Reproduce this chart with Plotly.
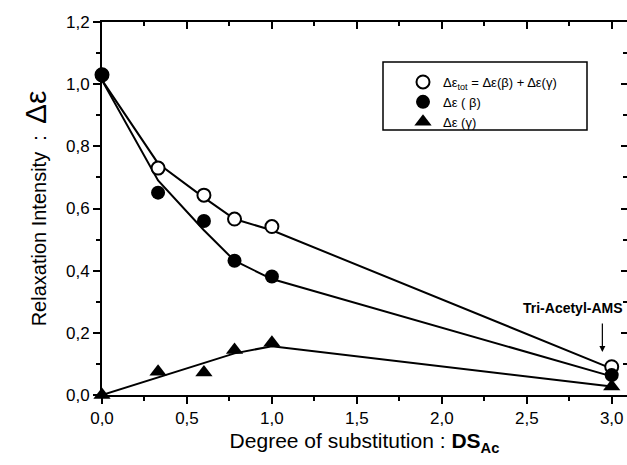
import plotly.graph_objects as go

# Data points
ds = [0.0, 0.33, 0.6, 0.78, 1.0, 3.0]
de_tot = [1.03, 0.73, 0.643, 0.566, 0.542, 0.091]
de_beta = [1.03, 0.651, 0.56, 0.432, 0.381, 0.064]
de_gamma = [0.0, 0.075, 0.072, 0.145, 0.168, 0.027]

# Fitted lines
fit_x = [0.0, 0.33, 0.6, 0.78, 1.0, 3.0]
fit_tot = [1.013, 0.745, 0.635, 0.566, 0.530, 0.085]
fit_beta = [1.013, 0.69, 0.53, 0.432, 0.373, 0.060]
fit_gamma = [0.0, 0.057, 0.103, 0.134, 0.157, 0.027]

x_ticks = [0.0, 0.5, 1.0, 1.5, 2.0, 2.5, 3.0]
x_ticktext = ["0,0", "0,5", "1,0", "1,5", "2,0", "2,5", "3,0"]
x_minor = [0.25, 0.75, 1.25, 1.75, 2.25, 2.75]
y_ticks = [0.0, 0.2, 0.4, 0.6, 0.8, 1.0, 1.2]
y_ticktext = ["0,0", "0,2", "0,4", "0,6", "0,8", "1,0", "1,2"]
y_minor = [0.1, 0.3, 0.5, 0.7, 0.9, 1.1]

XR = [0, 3.09]
YR = [0, 1.2]
FONT = "Liberation Sans, Arial, sans-serif"

fig = go.Figure()
line = dict(color="black", width=2)
for fy in (fit_tot, fit_beta, fit_gamma):
    fig.add_trace(go.Scatter(x=fit_x, y=fy, mode="lines", line=line,
                             showlegend=False, hoverinfo="skip", cliponaxis=False))

fig.add_trace(go.Scatter(x=ds, y=de_tot, mode="markers", cliponaxis=False,
                         name="Δε<sub>tot</sub> = Δε(β) + Δε(γ)",
                         marker=dict(symbol="circle", size=13, color="white",
                                     line=dict(color="black", width=2))))
fig.add_trace(go.Scatter(x=ds, y=de_beta, mode="markers", cliponaxis=False,
                         name="Δε ( β)",
                         marker=dict(symbol="circle", size=14, color="black")))
fig.add_trace(go.Scatter(x=ds, y=de_gamma, mode="markers", cliponaxis=False,
                         name="Δε (γ)",
                         marker=dict(symbol="triangle-up", size=15, color="black")))
# dummy trace for mirror axes
fig.add_trace(go.Scatter(x=[None], y=[None], xaxis="x2", yaxis="y2",
                         showlegend=False, hoverinfo="skip"))

tickfont = dict(family=FONT, size=17, color="black")
fig.update_layout(
    width=627, height=465,
    margin=dict(l=102, r=0, t=22, b=70),
    paper_bgcolor="white", plot_bgcolor="white",
    font=dict(family=FONT, color="black"),
    xaxis=dict(range=XR, tickmode="array", tickvals=x_ticks, ticktext=x_ticktext,
               ticks="outside", ticklen=7, tickwidth=1.5, tickcolor="black",
               minor=dict(tickmode="array", tickvals=x_minor, ticks="outside",
                          ticklen=4, tickwidth=1.5, tickcolor="black"),
               showline=True, linecolor="black", linewidth=2,
               showgrid=False, zeroline=False, tickfont=tickfont,
               title=dict(text="Degree of substitution : <b>DS</b><sub><b>Ac</b></sub>",
                          font=dict(family=FONT, size=21), standoff=6)),
    yaxis=dict(range=YR, tickmode="array", tickvals=y_ticks, ticktext=y_ticktext,
               ticks="outside", ticklen=7, tickwidth=1.5, tickcolor="black",
               minor=dict(tickmode="array", tickvals=y_minor, ticks="outside",
                          ticklen=4, tickwidth=1.5, tickcolor="black"),
               showline=True, linecolor="black", linewidth=2,
               showgrid=False, zeroline=False, tickfont=tickfont,
               title=dict(text="Relaxation Intensity  :  <span style='font-size:30px'>Δε</span>",
                          font=dict(family=FONT, size=20), standoff=14)),
    xaxis2=dict(range=XR, overlaying="x", side="top", anchor="y",
                tickmode="array", tickvals=x_ticks, showticklabels=False,
                ticks="inside", ticklen=7, tickwidth=1.5, tickcolor="black",
                minor=dict(tickmode="array", tickvals=x_minor, ticks="inside",
                           ticklen=4, tickwidth=1.5, tickcolor="black"),
                showline=True, linecolor="black", linewidth=1.5,
                showgrid=False, zeroline=False),
    yaxis2=dict(range=YR, overlaying="y", side="right", anchor="x",
                tickmode="array", tickvals=y_ticks, showticklabels=False,
                ticks="inside", ticklen=6, tickwidth=1.5, tickcolor="black",
                minor=dict(tickmode="array", tickvals=y_minor, ticks="inside",
                           ticklen=4, tickwidth=1.5, tickcolor="black"),
                showline=False, showgrid=False, zeroline=False),
    legend=dict(x=(403 - 102) / 525, y=(395 - 67) / 373, xanchor="left", yanchor="top",
                bgcolor="rgba(0,0,0,0)", borderwidth=0,
                font=dict(family=FONT, size=13, color="black"),
                tracegroupgap=0, itemsizing="trace"),
    showlegend=True,
)

# legend box
fig.add_shape(type="rect", xref="paper", yref="paper",
              x0=(383 - 102) / 525, x1=(587 - 102) / 525,
              y0=(395 - 130) / 373, y1=(395 - 62) / 373,
              line=dict(color="black", width=1.5), fillcolor="rgba(0,0,0,0)")

fig.add_annotation(x=2.77, y=0.28, xref="x", yref="y", text="<b>Tri-Acetyl-AMS</b>",
                   showarrow=False, font=dict(family=FONT, size=14, color="black"))
fig.add_annotation(x=2.945, y=0.138, ax=2.945, ay=0.235, xref="x", yref="y",
                   axref="x", ayref="y", text="", showarrow=True,
                   arrowhead=2, arrowsize=1, arrowwidth=1.2, arrowcolor="black")

fig.write_html("out.html")
